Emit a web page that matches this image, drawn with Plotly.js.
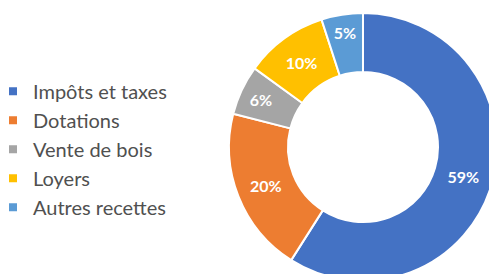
<!DOCTYPE html>
<html>
<head>
<meta charset="utf-8">
<script src="https://cdn.plot.ly/plotly-3.0.1.min.js"></script>
<style>
html,body{margin:0;padding:0;overflow:hidden;background:#fff;}
#chart{position:relative;left:-7px;width:507px;height:285px;}
</style>
</head>
<body>
<div id="chart"></div>
<script>
const categories = ["Impôts et taxes", "Dotations", "Vente de bois", "Loyers", "Autres recettes"];
const values = [59, 20, 6, 10, 5];
const colors = ["#4472C4", "#ED7D31", "#A5A5A5", "#FFC000", "#5B9BD5"];

const pieTrace = {
  type: "pie",
  labels: categories,
  values: values,
  sort: false,
  direction: "clockwise",
  rotation: 0,
  hole: 0.56,
  marker: {colors: colors, line: {color: "#ffffff", width: 2}},
  texttemplate: "%{percent:.0%}",
  textposition: "inside",
  insidetextorientation: "horizontal",
  textfont: {family: "Lato, 'Open Sans', sans-serif", size: 16, color: "#ffffff", weight: "bold"},
  domain: {x: [0.4655, 0.994], y: [0.014, 0.954]},
  hoverinfo: "none",
  showlegend: false
};

// legend proxies (small square keys)
const legendTraces = categories.map((name, i) => ({
  type: "scatter",
  mode: "markers",
  x: [null],
  y: [null],
  name: name,
  legendgroup: "g" + i,
  marker: {symbol: "square", size: 8, color: colors[i]},
  hoverinfo: "none",
  showlegend: true
}));

const layout = {
  width: 507,
  height: 285,
  margin: {l: 0, r: 0, t: 0, b: 0},
  paper_bgcolor: "#ffffff",
  plot_bgcolor: "rgba(0,0,0,0)",
  xaxis: {visible: false, range: [0, 1]},
  yaxis: {visible: false, range: [0, 1]},
  showlegend: true,
  legend: {
    x: 0, y: 0.748, xanchor: "left", yanchor: "top",
    font: {family: "Lato, 'Open Sans', sans-serif", size: 20, color: "#505050"},
    bgcolor: "rgba(0,0,0,0)",
    tracegroupgap: 0,
    traceorder: "grouped"
  }
};

Plotly.newPlot("chart", [pieTrace].concat(legendTraces), layout, {displayModeBar: false, staticPlot: true});
</script>
</body>
</html>
